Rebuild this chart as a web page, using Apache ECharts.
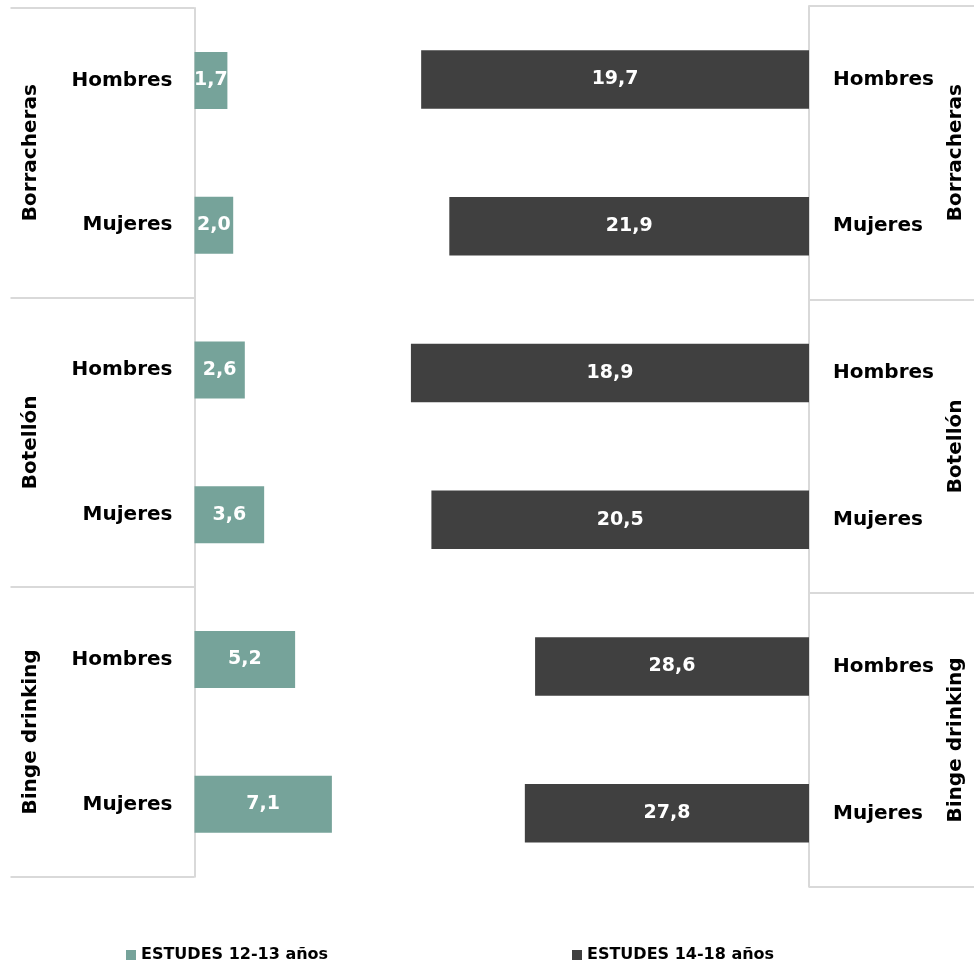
<!DOCTYPE html>
<html>
<head>
<meta charset="utf-8">
<script src="https://cdn.jsdelivr.net/npm/echarts@6/dist/echarts.min.js"></script>
<style>
html,body{margin:0;padding:0;background:#fff;}
#chart{width:974px;height:973px;}
</style>
</head>
<body>
<div id="chart"></div>
<script>
const categories = ['Hombres', 'Mujeres', 'Hombres', 'Mujeres', 'Hombres', 'Mujeres'];
const groups = ['Borracheras', 'Botellón', 'Binge drinking'];
const estudes1213 = [1.7, 2.0, 2.6, 3.6, 5.2, 7.1];
const estudes1418 = [19.7, 21.9, 18.9, 20.5, 28.6, 27.8];
const seriesNames = ['ESTUDES 12-13 años', 'ESTUDES 14-18 años'];
const rightAxisMax = 50;

const FONT = 'DejaVu Sans';
const GREEN = '#76a39a';
const DARK = '#404040';
const LINE = '#d9d9d9';
const fmt = v => v.toFixed(1).replace('.', ',');

const chart = echarts.init(document.getElementById('chart'));

const mainLabel = {
  color: '#000', fontFamily: FONT, fontWeight: 'bold', fontSize: 20
};
const groupLabel = {
  color: '#000', fontFamily: FONT, fontWeight: 'bold', fontSize: 20, rotate: 90
};
const legendText = { color: '#000', fontFamily: FONT, fontWeight: 'bold', fontSize: 16 };

chart.setOption({
  backgroundColor: '#fff',
  animation: false,
  grid: [
    { left: 194.5, top: 8, width: 387, bottom: 96.3, containLabel: false },
    { left: 169, top: 6, right: 165, bottom: 86.3, containLabel: false }
  ],
  xAxis: [
    { type: 'value', gridIndex: 0, min: 0, max: 20, show: false },
    { type: 'value', gridIndex: 1, min: 0, max: rightAxisMax, show: false }
  ],
  yAxis: [
    {
      type: 'category', gridIndex: 0, data: categories, inverse: true, position: 'left',
      axisLine: { show: true, onZero: false, lineStyle: { color: LINE, width: 2 } },
      axisTick: { show: false },
      axisLabel: Object.assign({ margin: 22 }, mainLabel),
      splitLine: { show: false }
    },
    {
      type: 'category', gridIndex: 0, data: groups, inverse: true, position: 'left', offset: 0,
      axisLine: { show: false, onZero: false },
      axisTick: { show: true, length: 184, lineStyle: { color: LINE, width: 2 } },
      axisLabel: Object.assign({ margin: 154 }, groupLabel),
      splitLine: { show: false }
    },
    {
      type: 'category', gridIndex: 1, data: categories, inverse: true, position: 'right',
      axisLine: { show: true, onZero: false, lineStyle: { color: LINE, width: 2 } },
      axisTick: { show: false },
      axisLabel: Object.assign({ margin: 24 }, mainLabel),
      splitLine: { show: false }
    },
    {
      type: 'category', gridIndex: 1, data: groups, inverse: true, position: 'right', offset: 0,
      axisLine: { show: false, onZero: false },
      axisTick: { show: true, length: 166, lineStyle: { color: LINE, width: 2 } },
      axisLabel: Object.assign({ margin: 137 }, groupLabel),
      splitLine: { show: false }
    }
  ],
  legend: [
    {
      data: [seriesNames[0]], left: 121, top: 942, icon: 'rect', itemWidth: 10, itemHeight: 10,
      textStyle: legendText
    },
    {
      data: [seriesNames[1]], left: 567, top: 942, icon: 'rect', itemWidth: 10, itemHeight: 10,
      textStyle: legendText
    }
  ],
  series: [
    {
      name: seriesNames[0], type: 'bar', xAxisIndex: 0, yAxisIndex: 0,
      data: estudes1213, barWidth: 57,
      itemStyle: { color: GREEN },
      label: {
        show: true, position: 'inside', color: '#fff', fontFamily: FONT, fontWeight: 'bold', fontSize: 19,
        formatter: p => fmt(p.value)
      }
    },
    {
      name: 'base', type: 'bar', xAxisIndex: 1, yAxisIndex: 2, stack: 'r',
      data: estudes1418, barWidth: 58.5,
      itemStyle: { color: 'rgba(0,0,0,0)' }, silent: true, label: { show: false }
    },
    {
      name: seriesNames[1], type: 'bar', xAxisIndex: 1, yAxisIndex: 2, stack: 'r',
      data: estudes1418.map(v => rightAxisMax - v), barWidth: 58.5,
      itemStyle: { color: DARK },
      label: {
        show: true, position: 'inside', color: '#fff', fontFamily: FONT, fontWeight: 'bold', fontSize: 19,
        formatter: p => fmt(estudes1418[p.dataIndex])
      }
    }
  ]
});
</script>
</body>
</html>
